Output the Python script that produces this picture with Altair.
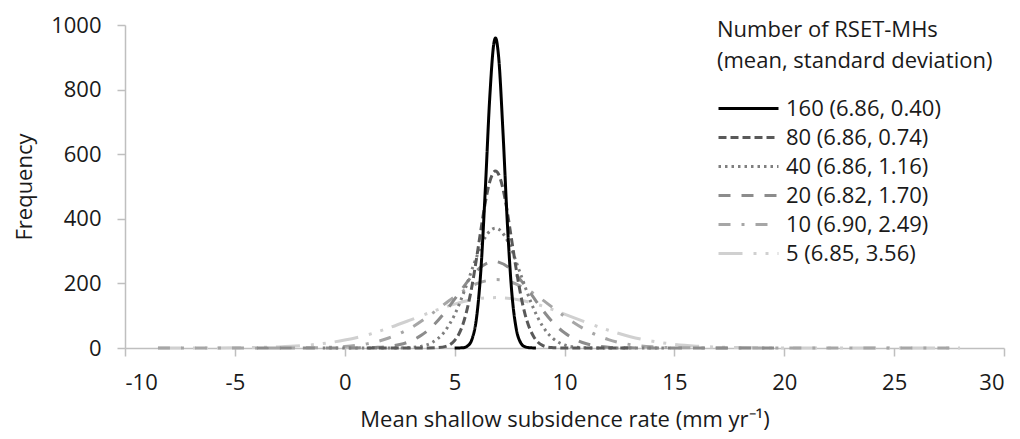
import altair as alt
import pandas as pd

# legend labels, styles
labels = ["160 (6.86, 0.40)", "80 (6.86, 0.74)", "40 (6.86, 1.16)",
          "20 (6.82, 1.70)", "10 (6.90, 2.49)", "5 (6.85, 3.56)"]
colors = ["#000000", "#595959", "#7f7f7f", "#8c8c8c", "#a6a6a6", "#d0d0d0"]
dashes = [[1, 0], [8, 4], [2.5, 4], [12, 11], [12, 11, 3, 11], [24, 11, 3, 9, 3, 9]]

# values
x160 = [5.0, 5.4, 5.6, 5.8, 6.0, 6.2, 6.4, 6.6, 6.8, 6.86, 7.0, 7.2, 7.4, 7.6, 7.8, 8.0, 8.2, 8.4, 8.7]
y160 = [0, 1, 7, 29, 95, 246, 496, 777, 949, 960, 903, 669, 386, 173, 61, 17, 4, 1, 0]

x80 = [1.0, 3.0, 3.8, 4.2, 4.6, 4.8, 5.0, 5.2, 5.4, 5.6, 5.8, 6.0, 6.2, 6.4, 6.6, 6.86,
       7.0, 7.2, 7.4, 7.6, 7.8, 8.0, 8.2, 8.4, 8.6, 9.0, 9.4, 9.8, 10.2, 13.0]
y80 = [0, 0, 0.1, 0.9, 5, 11, 23, 44, 78, 129, 196, 279, 368, 452, 515, 548,
       538, 493, 420, 332, 245, 167, 106, 63, 35, 8, 1.5, 0.3, 0, 0]

x40 = [-1.0, 1.0, 2.0, 2.5, 3.0, 3.5, 4.0, 4.5, 5.0, 5.5, 6.0, 6.5, 6.86, 7.0, 7.5, 8.0,
       8.5, 9.0, 9.5, 10.0, 10.5, 11.0, 11.5, 12.0, 15.0]
y40 = [0, 0, 0.1, 0.3, 1.5, 5.6, 18, 47, 103, 187, 282, 354, 371, 368, 319, 229,
       137, 68, 28, 9.5, 2.7, 0.6, 0.1, 0, 0]

x20 = [-4.0, -1.0, 0.0, 0.5, 1.0, 1.5, 2.0, 2.5, 3.0, 3.5, 4.0, 4.5, 5.0, 5.5, 6.0, 6.5, 6.82,
       7.0, 7.5, 8.0, 8.5, 9.0, 9.5, 10.0, 10.5, 11.0, 11.5, 12.0, 12.5, 13.0, 14.0, 20.0]
y20 = [0, 0, 0.1, 0.3, 0.8, 2, 4.8, 10.6, 21.5, 40, 68, 106, 151, 198, 239, 263, 268,
       266, 247, 211, 165, 118, 77, 47, 26, 13, 6, 2.6, 1, 0.4, 0, 0]

x10 = [-8.5, -4.0, -3.0, -2.0, -1.0, 0.0, 1.0, 2.0, 3.0, 4.0, 5.0, 5.5, 6.0, 6.5, 6.9,
       7.5, 8.0, 8.5, 9.0, 10.0, 11.0, 12.0, 13.0, 14.0, 15.0, 16.0, 17.0, 18.0, 28.0]
y10 = [0, 0, 0.1, 0.4, 1.4, 4.6, 12.8, 31, 62, 108, 159, 181, 199, 209, 212,
       206, 192, 173, 149, 98, 55, 26, 10.5, 3.6, 1.1, 0.3, 0.1, 0, 0]

x5 = [-8.5, -7.0, -6.0, -5.0, -4.0, -3.0, -2.0, -1.0, 0.0, 1.0, 2.0, 3.0, 4.0, 5.0, 6.0, 6.85,
      8.0, 9.0, 10.0, 11.0, 12.0, 13.0, 14.0, 15.0, 16.0, 17.0, 18.0, 19.0, 20.0, 22.0, 28.0]
y5 = [0, 0.1, 0.2, 0.6, 1.5, 3.4, 7.1, 13.7, 24.5, 40, 62, 87, 113, 136, 152, 156,
      148, 130, 105, 79, 55, 35, 21, 11.4, 5.8, 2.7, 1.2, 0.5, 0.2, 0, 0]

series_x = [x160, x80, x40, x20, x10, x5]
series_y = [y160, y80, y40, y20, y10, y5]

rows = []
# draw lightest first so the black curve sits on top
for lab, xs, ys in reversed(list(zip(labels, series_x, series_y))):
    for i, (xv, yv) in enumerate(zip(xs, ys)):
        rows.append({"series": lab, "x": xv, "y": yv, "i": i})
df = pd.DataFrame(rows)

FONT = "Open Sans"
TXT = "#1a1a1a"
FS = 22


def make_legend():
    return alt.Legend(
        title=["Number of RSET-MHs", "(mean, standard deviation)"],
        orient="none", legendX=592, legendY=-5,
        symbolType="stroke", symbolSize=3600, symbolStrokeWidth=3,
        clipHeight=29, rowPadding=0, labelOffset=6,
        labelFontSize=FS, titleFontSize=FS, titleFontWeight="normal",
        titleLineHeight=31, titlePadding=21, titleLimit=500, labelLimit=400,
        labelFont=FONT, titleFont=FONT, labelColor=TXT, titleColor=TXT)


chart = alt.Chart(df).mark_line(strokeWidth=3, interpolate="monotone").encode(
    x=alt.X("x:Q",
            scale=alt.Scale(domain=[-10, 30], nice=False, zero=False),
            axis=alt.Axis(values=list(range(-10, 31, 5)), title="Mean shallow subsidence rate (mm yr⁻¹)",
                          labelExpr="'' + datum.value",
                          grid=False, tickSize=8, labelPadding=16, titlePadding=16,
                          domainColor="#bfbfbf", tickColor="#bfbfbf", domainWidth=1.5, tickWidth=1.5)),
    y=alt.Y("y:Q",
            scale=alt.Scale(domain=[0, 1000], nice=False),
            axis=alt.Axis(values=list(range(0, 1001, 200)), title="Frequency",
                          labelExpr="'' + datum.value",
                          grid=False, tickSize=8, labelPadding=16, titlePadding=14,
                          domainColor="#bfbfbf", tickColor="#bfbfbf", domainWidth=1.5, tickWidth=1.5)),
    color=alt.Color("series:N", sort=labels,
                    scale=alt.Scale(domain=labels, range=colors),
                    legend=make_legend()),
    strokeDash=alt.StrokeDash("series:N", sort=labels,
                              scale=alt.Scale(domain=labels, range=dashes),
                              legend=make_legend()),
    order="i:Q",
).properties(
    width=879, height=323,
    autosize=alt.AutoSizeParams(type="none"),
    padding={"left": 117, "top": 17, "right": 8, "bottom": 88},
).configure_view(stroke=None).configure_axis(
    labelFont=FONT, titleFont=FONT, labelFontSize=FS, titleFontSize=FS,
    titleFontWeight="normal", labelColor=TXT, titleColor=TXT
)

chart.save("out.html", embed_options={"renderer": "svg", "actions": False})
